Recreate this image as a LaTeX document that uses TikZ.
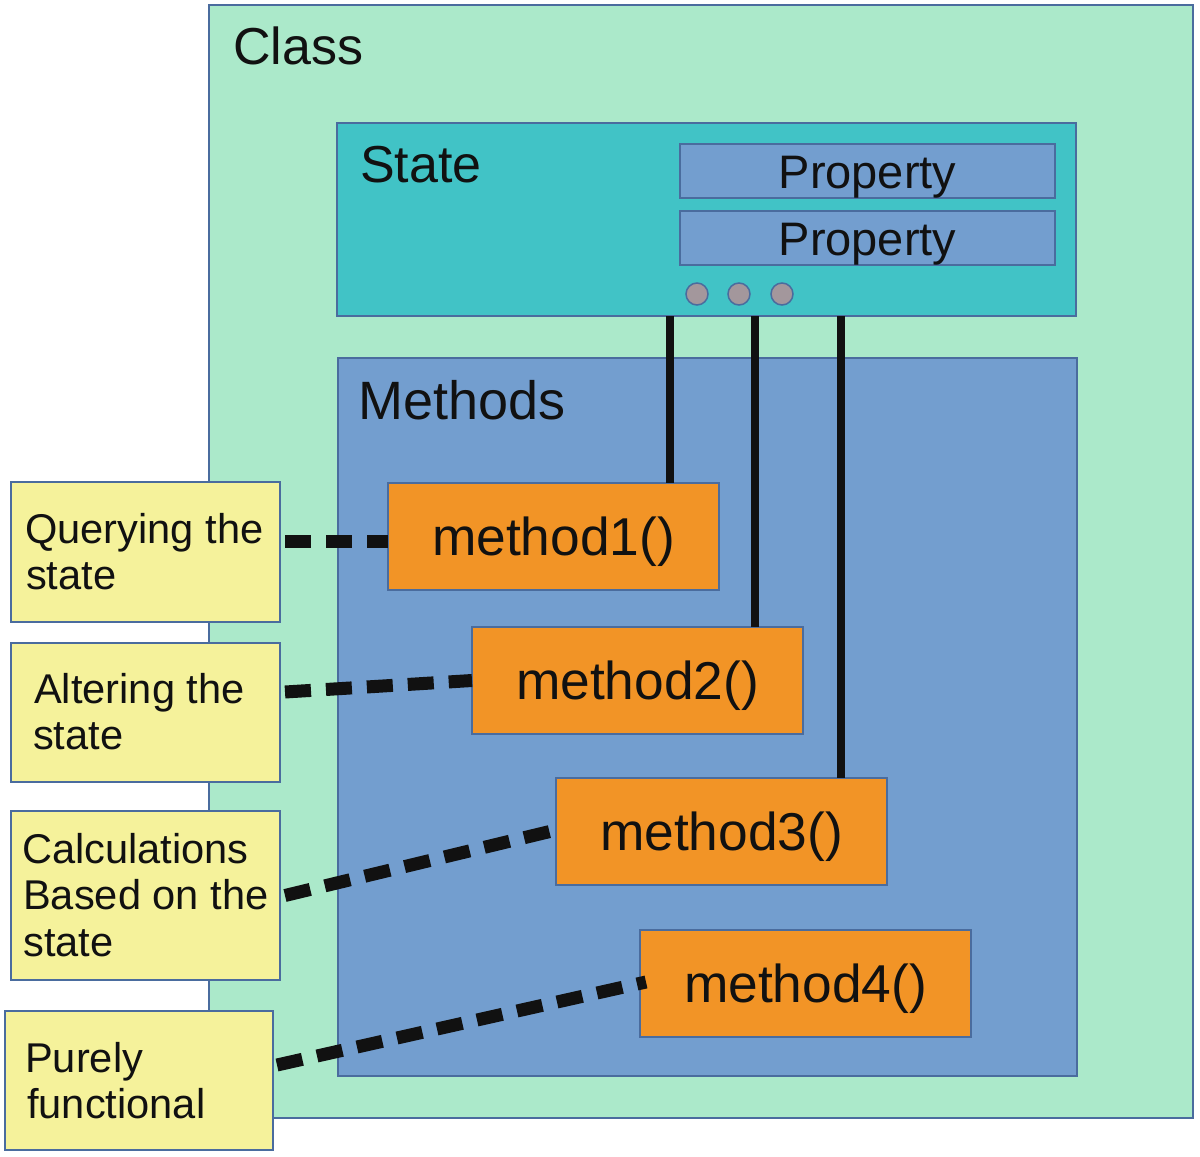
\documentclass[tikz,border=0pt]{standalone}
\usepackage{fontspec}
\setmainfont{Liberation Sans}
\usetikzlibrary{calc}
\definecolor{classc}{HTML}{ABE9CA}
\definecolor{statec}{HTML}{41C3C6}
\definecolor{bluec}{HTML}{739ECF}
\definecolor{orangec}{HTML}{F29426}
\definecolor{yellowc}{HTML}{F5F29B}
\definecolor{bordc}{HTML}{4A6C9E}
\definecolor{dotc}{HTML}{A3979C}
\definecolor{inkc}{HTML}{111111}
\begin{document}
\begin{tikzpicture}[x=1pt,y=-1pt,
  box/.style={draw=bordc, line width=2pt, inner sep=0pt, outer sep=0pt, anchor=north west},
  bigtxt/.style={font=\fontsize{52}{62}\selectfont, text=inkc, inner sep=0pt, anchor=base west},
  proptxt/.style={font=\fontsize{47}{56}\selectfont, text=inkc, text height=34pt, text depth=0pt},
  methbox/.style={box, fill=orangec, minimum width=331pt, minimum height=107pt,
    font=\fontsize{53.3}{62}\selectfont, text=inkc, text height=38pt, text depth=0pt},
  labbox/.style={box, fill=yellowc, minimum width=269pt, minimum height=139pt},
  labtxt/.style={font=\fontsize{41.6}{47}\selectfont, text=inkc, inner sep=0pt, anchor=base west},
  dotnode/.style={circle, draw=bordc, line width=1.5pt, fill=dotc, minimum size=22pt, inner sep=0pt},
  solidline/.style={draw=inkc, line width=8.5pt},
  dashline/.style={draw=inkc, line width=13pt, dash pattern=on 26pt off 15pt}]
\fill[white] (0,0) rectangle (1200,1157);
\useasboundingbox (0,0) rectangle (1200,1157);
% containers
\node[box, fill=classc, minimum width=984pt, minimum height=1113pt] (class) at (209,5) {};
\node[bigtxt] (classtxt) at (233,64) {Class};
\node[box, fill=statec, minimum width=739pt, minimum height=193pt] (state) at (337,123) {};
\node[bigtxt] (statetxt) at (360,182) {State};
\node[box, fill=bluec, minimum width=739pt, minimum height=718pt] (methods) at (338,358) {};
\node[bigtxt, font=\fontsize{54}{62}\selectfont] (methodstxt) at (358,419) {Methods};
% properties
\node[box, fill=bluec, proptxt, minimum width=375pt, minimum height=54pt] (prop1) at (680,144) {Property};
\node[box, fill=bluec, proptxt, minimum width=375pt, minimum height=54pt] (prop2) at (680,211) {Property};
\node[dotnode] (dot1) at (697,294) {};
\node[dotnode] (dot2) at (739,294) {};
\node[dotnode] (dot3) at (782,294) {};
% methods
\node[methbox] (m1) at (388,483) {method1()};
\node[methbox] (m2) at (472,627) {method2()};
\node[methbox] (m3) at (556,778) {method3()};
\node[methbox] (m4) at (640,930) {method4()};
% solid connectors
\coordinate (l1) at (670,0);
\coordinate (l2) at (755,0);
\coordinate (l3) at (841,0);
\draw[solidline] (state.south -| l1) -- (m1.north -| l1);
\draw[solidline] (state.south -| l2) -- (m2.north -| l2);
\draw[solidline] (state.south -| l3) -- (m3.north -| l3);
% labels
\node[labbox, minimum height=140pt] (q) at (11,482) {};
\node[labtxt] (qt1) at (25,543) {Querying the};
\node[labtxt] (qt2) at (26,589) {state};
\node[labbox] (a) at (11,643) {};
\node[labtxt] (at1) at (34,703) {Altering the};
\node[labtxt] (at2) at (33,749) {state};
\node[labbox, minimum height=169pt] (c) at (11,811) {};
\node[labtxt] (ct1) at (22,863) {Calculations};
\node[labtxt] (ct2) at (23,909) {Based on the};
\node[labtxt] (ct3) at (23,956) {state};
\node[labbox, minimum width=268pt] (p) at (5,1011) {};
\node[labtxt] (pt1) at (25,1072) {Purely};
\node[labtxt] (pt2) at (27,1118) {functional};
% dashed connectors
\draw[dashline] ([xshift=5pt,yshift=11pt]q.east) -- ([yshift=-4.5pt]m1.west);
\draw[dashline] ([xshift=5pt,yshift=20.5pt]a.east) -- (m2.west);
\draw[dashline] ([xshift=5pt]c.east) -- ([yshift=1.5pt]m3.west);
\draw[dashline] ([xshift=4pt,yshift=15.5pt]p.east) -- ([xshift=6pt,yshift=1.5pt]m4.west);
\end{tikzpicture}
\end{document}
